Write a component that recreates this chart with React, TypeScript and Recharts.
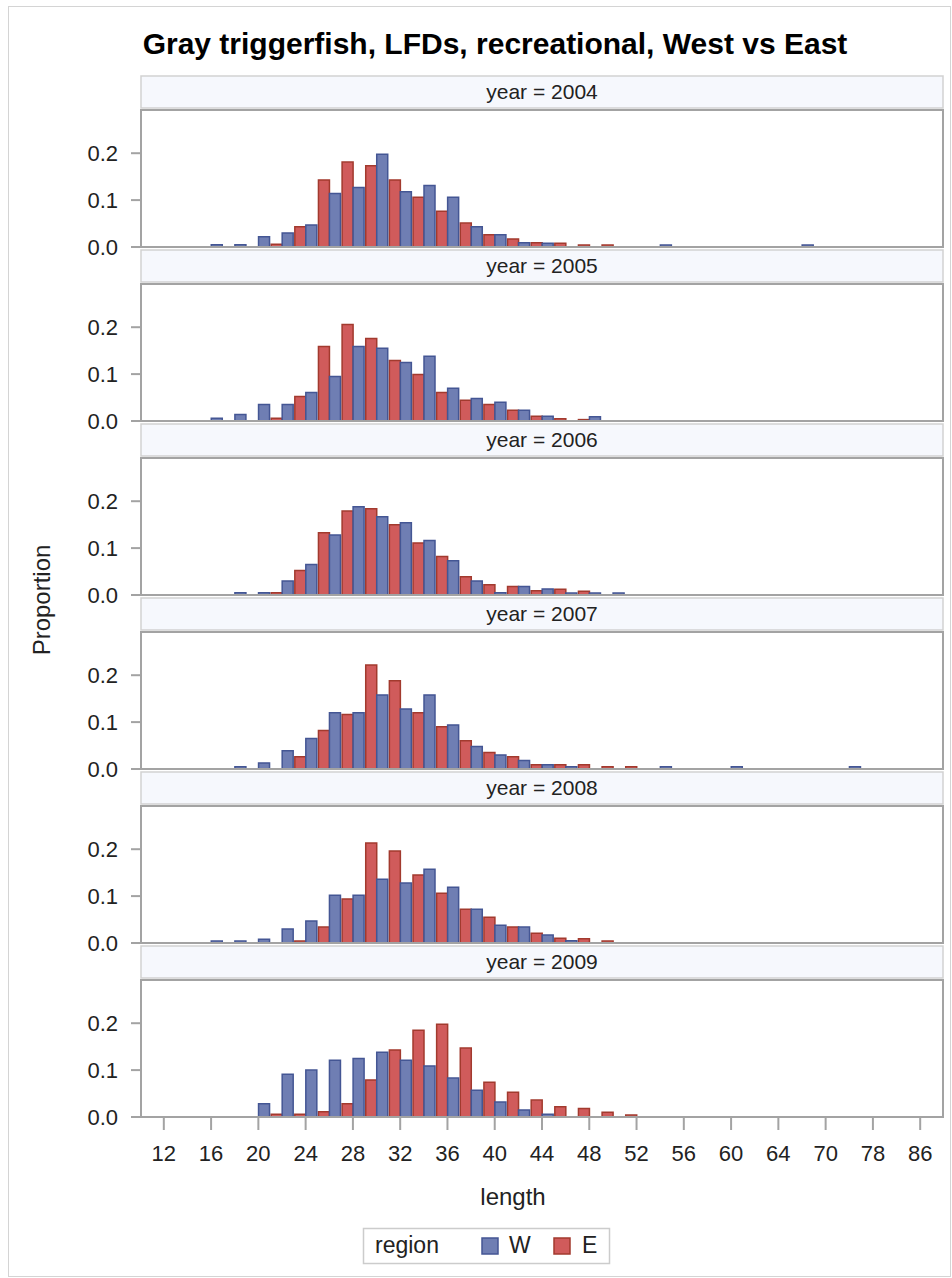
import React from "react";
import { BarChart, Bar, XAxis, YAxis } from "recharts";

// length classes on the x axis (categorical, not evenly spaced past 64)
const lengths = [
  "12", "14", "16", "18", "20", "22", "24", "26", "28", "30", "32", "34", "36", "38", "40", "42", "44",
  "46", "48", "50", "52", "54", "56", "58", "60", "62", "64", "66", "70", "74", "78", "82", "86",
];
const xTicks = ["12", "16", "20", "24", "28", "32", "36", "40", "44", "48", "52", "56", "60", "64", "70", "78", "86"];
const yTicks = [0, 0.1, 0.2];
const years = [2004, 2005, 2006, 2007, 2008, 2009];

// proportions per length class, West
const w2004 = [null, null, 0.005, 0.005, 0.022, 0.03, 0.047, 0.114, 0.127, 0.198, 0.118, 0.131, 0.106, 0.043, 0.026, 0.009, 0.008, null, null, null, null, 0.004, null, null, null, null, null, 0.004, null, null, null, null, null];
const w2005 = [null, null, 0.006, 0.014, 0.035, 0.035, 0.061, 0.095, 0.159, 0.155, 0.125, 0.138, 0.07, 0.048, 0.04, 0.023, 0.01, null, 0.009, null, null, null, null, null, null, null, null, null, null, null, null, null, null];
const w2006 = [null, null, null, 0.005, 0.005, 0.03, 0.065, 0.128, 0.188, 0.167, 0.154, 0.116, 0.073, 0.03, 0.005, 0.018, 0.013, 0.004, 0.004, 0.004, null, null, null, null, null, null, null, null, null, null, null, null, null];
const w2007 = [null, null, null, 0.005, 0.013, 0.039, 0.065, 0.12, 0.12, 0.158, 0.128, 0.158, 0.094, 0.048, 0.03, 0.018, 0.009, 0.005, null, null, null, 0.005, null, null, 0.005, null, null, null, null, 0.005, null, null, null];
const w2008 = [null, null, 0.004, 0.004, 0.008, 0.03, 0.047, 0.102, 0.102, 0.136, 0.128, 0.157, 0.119, 0.072, 0.038, 0.034, 0.017, 0.005, null, null, null, null, null, null, null, null, null, null, null, null, null, null, null];
const w2009 = [null, null, null, null, 0.028, 0.091, 0.1, 0.121, 0.125, 0.138, 0.121, 0.109, 0.083, 0.057, 0.032, 0.015, 0.006, null, null, null, null, null, null, null, null, null, null, null, null, null, null, null, null];

// proportions per length class, East
const e2004 = [null, null, null, null, null, 0.006, 0.043, 0.143, 0.181, 0.173, 0.143, 0.106, 0.076, 0.051, 0.026, 0.017, 0.009, 0.008, 0.004, 0.004, null, null, null, null, null, null, null, null, null, null, null, null, null];
const e2005 = [null, null, null, null, null, 0.006, 0.052, 0.159, 0.206, 0.176, 0.129, 0.099, 0.061, 0.044, 0.035, 0.023, 0.01, 0.005, 0.003, null, null, null, null, null, null, null, null, null, null, null, null, null, null];
const e2006 = [null, null, null, null, null, 0.005, 0.052, 0.133, 0.179, 0.184, 0.15, 0.111, 0.082, 0.039, 0.022, 0.018, 0.009, 0.012, 0.008, null, null, null, null, null, null, null, null, null, null, null, null, null, null];
const e2007 = [null, null, null, null, null, null, 0.026, 0.082, 0.116, 0.222, 0.188, 0.12, 0.09, 0.06, 0.035, 0.026, 0.009, 0.009, 0.009, 0.005, 0.005, null, null, null, null, null, null, null, null, null, null, null, null];
const e2008 = [null, null, null, null, null, null, 0.004, 0.034, 0.094, 0.213, 0.196, 0.145, 0.106, 0.072, 0.055, 0.034, 0.021, 0.01, 0.009, 0.004, null, null, null, null, null, null, null, null, null, null, null, null, null];
const e2009 = [null, null, null, null, null, 0.006, 0.006, 0.011, 0.028, 0.079, 0.143, 0.185, 0.198, 0.147, 0.074, 0.053, 0.036, 0.022, 0.018, 0.01, 0.004, null, null, null, null, null, null, null, null, null, null, null, null];

const west = [w2004, w2005, w2006, w2007, w2008, w2009];
const east = [e2004, e2005, e2006, e2007, e2008, e2009];

const FONT = '"Liberation Sans", Arial, sans-serif';
const W_FILL = "#6F7EB3";
const W_LINE = "#445694";
const E_FILL = "#D05B5B";
const E_LINE = "#A23A2E";
const FRAME = "#A3A3A3";

// layout
const PLOT_LEFT = 141;
const PLOT_W = 802;
const PLOT_TOP = 111;
const PLOT_H = 136;
const STEP = 174;
const AXIS_H = 60;

function Panel({ i }: { i: number }) {
  const last = i === years.length - 1;
  const data = lengths.map((len, k) => ({ length: len, W: west[i][k], E: east[i][k] }));
  const top = PLOT_TOP + i * STEP;
  return (
    <div style={{ position: "absolute", left: 0, top: top - 10 }}>
      <BarChart
        width={PLOT_LEFT + PLOT_W + 9}
        height={10 + PLOT_H + (last ? AXIS_H : 16)}
        data={data}
        margin={{ top: 10, right: 9, bottom: last ? 0 : 16, left: 0 }}
        barCategoryGap={1}
        barGap={0}
      >
        <XAxis
          dataKey="length"
          hide={!last}
          height={AXIS_H}
          ticks={xTicks}
          interval={0}
          padding={{ left: 11, right: 11 }}
          axisLine={false}
          tickSize={13}
          tickMargin={15}
          tickLine={{ stroke: FRAME, strokeWidth: 2 }}
          tick={{ fill: "#222", fontSize: 22, fontFamily: FONT }}
        />
        <YAxis
          width={PLOT_LEFT}
          domain={[0, 0.29]}
          ticks={yTicks}
          interval={0}
          allowDataOverflow
          axisLine={false}
          tickSize={10}
          tickMargin={13}
          tickLine={{ stroke: FRAME, strokeWidth: 2 }}
          tickFormatter={(v: number) => v.toFixed(1)}
          tick={{ fill: "#222", fontSize: 22, fontFamily: FONT }}
        />
        <Bar dataKey="E" fill={E_FILL} stroke={E_LINE} strokeWidth={1.5} isAnimationActive={false} />
        <Bar dataKey="W" fill={W_FILL} stroke={W_LINE} strokeWidth={1.5} isAnimationActive={false} />
      </BarChart>
    </div>
  );
}

export default function App() {
  return (
    <div style={{ position: "absolute", left: 0, top: 0, width: 952, height: 1278, background: "#fff", fontFamily: FONT }}>
      {years.map((y, i) => (
        <Panel key={y} i={i} />
      ))}
      <svg width={952} height={1278} style={{ position: "absolute", left: 0, top: 0, pointerEvents: "none" }}>
        <rect x={8.5} y={6.5} width={942} height={1270} fill="none" stroke="#D4D4D4" strokeWidth={1} />
        <text x={495} y={54} textAnchor="middle" fontSize={30} fontWeight="bold" fill="#000" fontFamily={FONT}>
          Gray triggerfish, LFDs, recreational, West vs East
        </text>
        {years.map((y, i) => (
          <g key={y}>
            <rect x={PLOT_LEFT} y={76 + i * STEP} width={PLOT_W} height={32} fill="#F6F8FD" stroke="#D2D2D2" strokeWidth={1.5} />
            <text x={PLOT_LEFT + PLOT_W / 2} y={99 + i * STEP} textAnchor="middle" fontSize={21} fill="#222" fontFamily={FONT}>
              {`year = ${y}`}
            </text>
            <rect x={PLOT_LEFT} y={PLOT_TOP + i * STEP - 1} width={PLOT_W} height={PLOT_H + 1} fill="none" stroke={FRAME} strokeWidth={2} />
          </g>
        ))}
        <text transform="translate(50,600) rotate(-90)" textAnchor="middle" fontSize={24} fill="#222" fontFamily={FONT}>
          Proportion
        </text>
        <text x={513} y={1205} textAnchor="middle" fontSize={24} fill="#222" fontFamily={FONT}>
          length
        </text>
        <rect x={363.5} y={1228.5} width={246} height={35} fill="#fff" stroke="#CCCCCC" strokeWidth={1.5} />
        <text x={375} y={1253} fontSize={23} fill="#222" fontFamily={FONT}>
          region
        </text>
        <rect x={482} y={1238} width={16} height={16} fill={W_FILL} stroke={W_LINE} strokeWidth={1.5} />
        <text x={509} y={1253} fontSize={23} fill="#222" fontFamily={FONT}>
          W
        </text>
        <rect x={554} y={1238} width={16} height={16} fill={E_FILL} stroke={E_LINE} strokeWidth={1.5} />
        <text x={582} y={1253} fontSize={23} fill="#222" fontFamily={FONT}>
          E
        </text>
      </svg>
    </div>
  );
}
